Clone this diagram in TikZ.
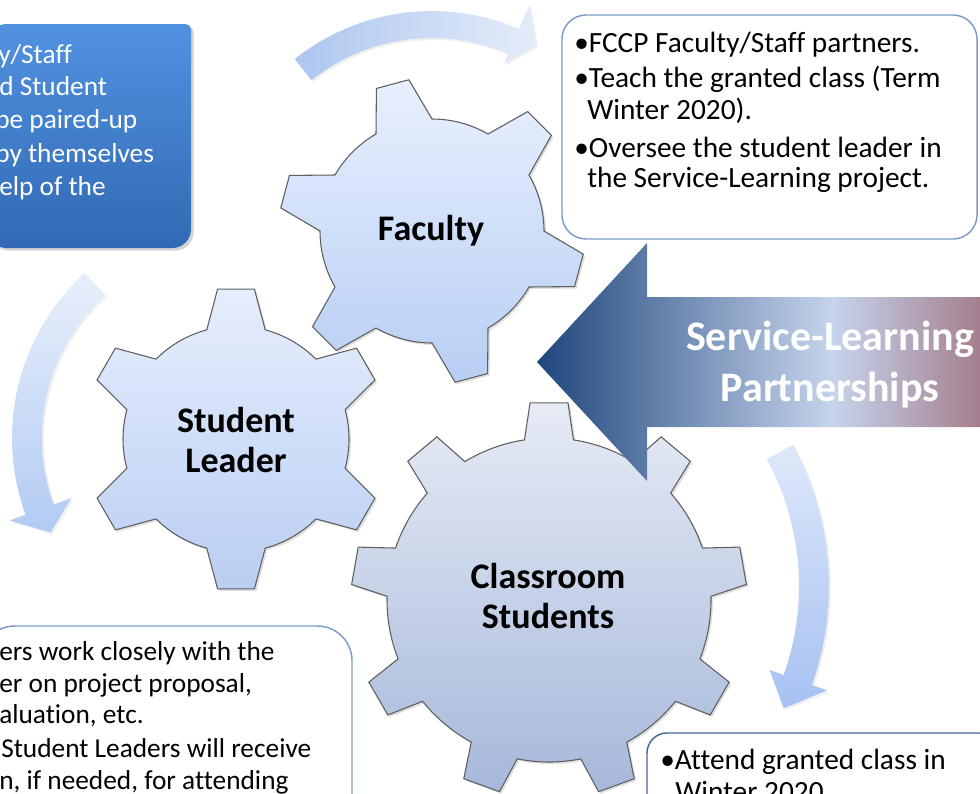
\documentclass[tikz,border=0pt]{standalone}
\usepackage{fontspec}
\setmainfont{Carlito}[Ligatures=NoCommon]
\usetikzlibrary{shadows}
\definecolor{slnavy}{HTML}{1F467C}
\definecolor{sllight}{HTML}{C6D4EC}
\definecolor{slmauve}{HTML}{A47B8B}
\definecolor{boxline}{HTML}{7D9BCB}
\definecolor{boxlinedark}{HTML}{46679B}
\definecolor{bluetop}{HTML}{5192E0}
\definecolor{bluebot}{HTML}{3169B4}
\definecolor{gearline}{HTML}{5E5E5E}
\definecolor{arcAdark}{RGB}{173,198,239}
\definecolor{arcAlight}{RGB}{228,236,250}
\definecolor{arcBlight}{RGB}{232,239,251}
\definecolor{arcBdark}{RGB}{178,203,243}
\definecolor{arcClight}{RGB}{222,232,249}
\definecolor{arcCdark}{RGB}{166,193,242}
\definecolor{gAtop}{RGB}{232,240,253}
\definecolor{gAbot}{RGB}{184,206,244}
\definecolor{gBtop}{RGB}{230,238,252}
\definecolor{gBbot}{RGB}{186,206,243}
\definecolor{gCtop}{RGB}{230,235,245}
\definecolor{gCbot}{RGB}{166,184,218}
\pgfdeclarehorizontalshading{slpshade}{100bp}{color(0bp)=(slnavy); color(25bp)=(slnavy); color(58bp)=(sllight); color(75bp)=(slmauve); color(100bp)=(slmauve)}
\newcommand\drawgear[9]{%
  \begin{scope}[shift={(#2,#3)},x=0.75pt,y=0.75pt]
    \path[#1] ({#5-#8}:#6)
      \foreach \k in {1,...,#4}{
        -- ({#5+(\k-1)*360/#4-#9}:#7) -- ({#5+(\k-1)*360/#4+#9}:#7) -- ({#5+(\k-1)*360/#4+#8}:#6)
        arc[start angle={#5+(\k-1)*360/#4+#8}, end angle={#5+\k*360/#4-#8}, radius={#6*0.75pt}]
      } -- cycle;
  \end{scope}}
\tikzset{
  bodytext/.style={font=\fontsize{20.5}{24}\selectfont, anchor=base west, inner sep=0pt},
  righttext/.style={font=\fontsize{22}{26}\selectfont, anchor=base west, inner sep=0pt},
  whitetext/.style={bodytext, text=white},
  geartext/.style={font=\fontsize{27}{30}\selectfont\bfseries, anchor=base, inner sep=0pt},
  slptext/.style={font=\fontsize{31.5}{36}\selectfont\bfseries, anchor=base, inner sep=0pt, text=white},
  gearshape/.style={draw=gearline, line width=0.8pt, drop shadow={shadow xshift=1.5pt, shadow yshift=-1.5pt, opacity=0.25}},
  arcshape/.style={drop shadow={shadow xshift=1.5pt, shadow yshift=-1.5pt, opacity=0.12}},
  infobox/.style={draw=boxline, line width=1.1pt, fill=white},
}
\begin{document}
\begin{tikzpicture}[x=0.75pt,y=-0.75pt]
\useasboundingbox (0,0) rectangle (980,793);
% circular arrows
\begin{scope}[shift={(432,231)},x=0.75pt,y=0.75pt]
  \path[arcshape, left color=arcAdark, right color=arcAlight]
    (128.6:193) -- (128.6:220) arc[start angle=128.6, end angle=66.7, radius=165pt]
    -- (66.7:246) -- (60.8:213) -- (66.7:182) -- (66.7:193)
    arc[start angle=66.7, end angle=128.6, radius=144.75pt] -- cycle;
\end{scope}
\begin{scope}[shift={(236,438)},x=0.75pt,y=0.75pt]
  \path[arcshape, top color=arcBlight, bottom color=arcBdark]
    (132.5:194) -- (132.5:224) arc[start angle=132.5, end angle=200, radius=168pt]
    -- (200:241) -- (207:208) -- (200:175) -- (200:194)
    arc[start angle=200, end angle=132.5, radius=145.5pt] -- cycle;
\end{scope}
\begin{scope}[shift={(534,586)},x=0.75pt,y=0.75pt]
  \path[arcshape, top color=arcClight, bottom color=arcCdark]
    (28.6:265) -- (28.6:295) arc[start angle=28.6, end angle=-19.6, radius=221.25pt]
    -- (-19.6:311) -- (-26.1:278) -- (-19.6:250) -- (-19.6:265)
    arc[start angle=-19.6, end angle=28.6, radius=198.75pt] -- cycle;
\end{scope}
% gears
\drawgear{gearshape, top color=gAtop, bottom color=gAbot}{432}{231}{6}{105}{112}{153}{15}{6.3}
\drawgear{gearshape, top color=gBtop, bottom color=gBbot}{236}{439}{6}{90}{113}{151}{15}{7}
\drawgear{gearshape, top color=gCtop, bottom color=gCbot}{549}{600}{9}{90}{162}{198}{8.7}{5.5}
% big arrow
\path[shading=slpshade] (537,362) -- (647,243) -- (647,297) -- (985,297) -- (985,427) -- (647,427) -- (647,481) -- cycle;
% top-left blue box
\path[top color=bluetop, bottom color=bluebot, drop shadow={shadow xshift=2pt, shadow yshift=-2pt, opacity=0.35}]
  (-12,24) [rounded corners=4pt] -- (191,24) [rounded corners=14pt] -- (191,248) -- (-12,248) -- cycle;
% text boxes
\path[infobox, rounded corners=18pt] (562,15) rectangle (977,239);
\path[infobox, rounded corners=26pt] (-20,626) rectangle (352,840);
\path[infobox, draw=boxlinedark, rounded corners=15pt] (647,733) rectangle (1000,850);
% blue box text
\node[whitetext] (b1) at (-2,63) {y/Staff};
\node[whitetext] (b2) at (-1,95) {d Student};
\node[whitetext] (b3) at (-5,128) {be paired-up};
\node[whitetext] (b4) at (-5,162) {by themselves};
\node[whitetext] (b5) at (-1,195) {elp of the};
% right box text
\node[righttext] (r1) at (574,52) {•FCCP Faculty/Staff partners.};
\node[righttext] (r2) at (574,87) {•Teach the granted class (Term};
\node[righttext] (r3) at (587,119) {Winter 2020).};
\node[righttext] (r4) at (574,157) {•Oversee the student leader in};
\node[righttext] (r5) at (587,187) {the Service-Learning project.};
% bottom-left box text
\node[bodytext] (l1) at (-1,660) {ers work closely with the};
\node[bodytext] (l2) at (-1,692) {er on project proposal,};
\node[bodytext] (l3) at (-1,723) {aluation, etc.};
\node[bodytext] (l4) at (1,757) {Student Leaders will receive};
\node[bodytext] (l5) at (-1,789) {n, if needed, for attending};
% bottom-right box text
\node[righttext] (c1) at (660,769) {•Attend granted class in};
\node[righttext] (c2) at (675,801) {Winter 2020};
% gear labels
\node[geartext] (faculty) at (431,240) {Faculty};
\node[geartext] (leader1) at (236,432) {Student};
\node[geartext] (leader2) at (236,472) {Leader};
\node[geartext] (class1) at (548,588) {Classroom};
\node[geartext] (class2) at (548,628) {Students};
% arrow label
\node[slptext] (slp1) at (830,350) {Service-Learning};
\node[slptext] (slp2) at (830,401) {Partnerships};
\end{tikzpicture}
\end{document}
